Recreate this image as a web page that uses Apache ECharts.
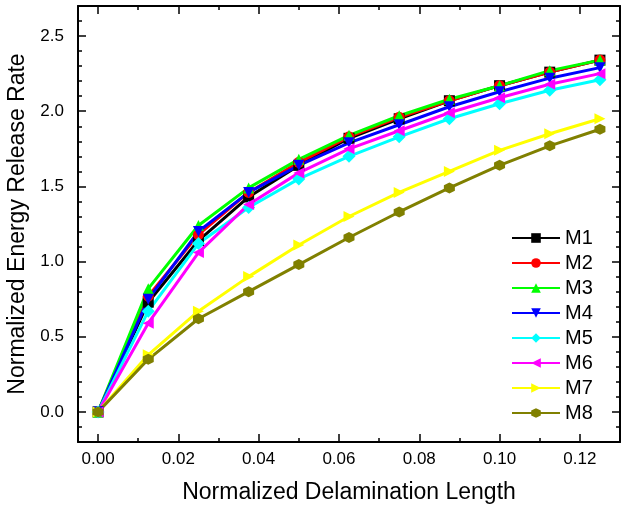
<!DOCTYPE html>
<html>
<head>
<meta charset="utf-8">
<script src="https://cdn.jsdelivr.net/npm/echarts@6/dist/echarts.min.js"></script>
<style>
  html, body { margin: 0; padding: 0; background: #fff; }
  #chart { width: 626px; height: 508px; }
</style>
</head>
<body>
<div id="chart"></div>
<script>
// data
const xValues = [0, 0.0125, 0.025, 0.0375, 0.05, 0.0625, 0.075, 0.0875, 0.1, 0.1125, 0.125];
const m1 = [0, 0.73, 1.14, 1.43, 1.64, 1.82, 1.95, 2.07, 2.17, 2.26, 2.34];
const m2 = [0, 0.77, 1.18, 1.46, 1.66, 1.83, 1.96, 2.07, 2.17, 2.26, 2.34];
const m3 = [0, 0.82, 1.24, 1.49, 1.68, 1.84, 1.97, 2.08, 2.17, 2.27, 2.34];
const m4 = [0, 0.75, 1.20, 1.46, 1.64, 1.79, 1.91, 2.03, 2.13, 2.22, 2.29];
const m5 = [0, 0.67, 1.12, 1.36, 1.55, 1.70, 1.83, 1.95, 2.05, 2.14, 2.21];
const m6 = [0, 0.59, 1.06, 1.38, 1.59, 1.75, 1.87, 1.99, 2.09, 2.18, 2.25];
const m7 = [0, 0.38, 0.67, 0.90, 1.11, 1.30, 1.46, 1.60, 1.74, 1.85, 1.95];
const m8 = [0, 0.35, 0.62, 0.80, 0.98, 1.16, 1.33, 1.49, 1.64, 1.77, 1.88];

const names = ['M1', 'M2', 'M3', 'M4', 'M5', 'M6', 'M7', 'M8'];
const xMajor = [0, 0.02, 0.04, 0.06, 0.08, 0.1, 0.12];
const xMinor = [0.01, 0.03, 0.05, 0.07, 0.09, 0.11];
const yMajor = [0, 0.5, 1.0, 1.5, 2.0, 2.5];
const yMinor = [-0.1, 0.1, 0.2, 0.3, 0.4, 0.6, 0.7, 0.8, 0.9, 1.1, 1.2, 1.3, 1.4,
                1.6, 1.7, 1.8, 1.9, 2.1, 2.2, 2.3, 2.4, 2.6];

const colors = ['#000000', '#FF0000', '#00FF00', '#0000FF', '#00FFFF', '#FF00FF', '#FFFF00', '#808000'];
const hexagon = 'path://M0,-1L0.866,-0.5L0.866,0.5L0,1L-0.866,0.5L-0.866,-0.5Z';
const symbols = ['rect', 'circle', 'triangle', 'triangle', 'diamond', 'triangle', 'triangle', hexagon];
const rotates = [0, 0, 0, 180, 0, 90, -90, 0];

const font = 'Liberation Sans, Arial, sans-serif';
let myChart = echarts.init(document.getElementById('chart'));

// grid 0: frame, major ticks, labels, series. grid 1 (same box): minor ticks only
// labels stay "shown" on every axis (empty, tiny text on the extra ones) or v6 drops the ticks
function xAx(grid, pos, vals, len, show) {
    return {
        type: 'value', gridIndex: grid, position: pos, min: -0.005, max: 0.13,
        axisLine: {show: grid === 0, onZero: false, lineStyle: {color: '#000', width: 2}},
        splitLine: {show: false},
        axisTick: {show: true, inside: true, length: len, customValues: vals,
            lineStyle: {color: '#000', width: 1.5}},
        axisLabel: {show: true, customValues: xMajor, margin: show ? 9 : 0,
            fontSize: show ? 17 : 1, color: '#000', fontFamily: font,
            formatter: v => show ? v.toFixed(2) : ''}
    };
}
function yAx(grid, pos, vals, len, show) {
    return {
        type: 'value', gridIndex: grid, position: pos, min: -0.2, max: 2.7,
        axisLine: {show: grid === 0, onZero: false, lineStyle: {color: '#000', width: 2}},
        splitLine: {show: false},
        axisTick: {show: true, inside: true, length: len, customValues: vals,
            lineStyle: {color: '#000', width: 1.5}},
        axisLabel: {show: true, customValues: yMajor, margin: show ? 14 : 0,
            fontSize: show ? 17 : 1, color: '#000', fontFamily: font,
            formatter: v => show ? v.toFixed(1) : ''}
    };
}

const xAxes = [xAx(0, 'bottom', xMajor, 8, true), xAx(0, 'top', xMajor, 8, false),
               xAx(1, 'bottom', xMinor, 4, false), xAx(1, 'top', xMinor, 4, false)];
xAxes[0].name = 'Normalized Delamination Length';
xAxes[0].nameLocation = 'middle';
xAxes[0].nameGap = 39;
xAxes[0].nameTextStyle = {fontSize: 23, color: '#000', fontFamily: font};

const yAxes = [yAx(0, 'left', yMajor, 8, true), yAx(0, 'right', yMajor, 8, false),
               yAx(1, 'left', yMinor, 4, false), yAx(1, 'right', yMinor, 4, false)];
yAxes[0].name = 'Normalized Energy Release Rate';
yAxes[0].nameLocation = 'middle';
yAxes[0].nameGap = 40;
yAxes[0].nameTextStyle = {fontSize: 23, color: '#000', fontFamily: font};

const allY = [m1, m2, m3, m4, m5, m6, m7, m8];
let series = allY.map((ys, i) => ({
    name: names[i],
    type: 'line',
    xAxisIndex: 0, yAxisIndex: 0,
    data: xValues.map((x, j) => [x, ys[j]]),
    symbol: symbols[i],
    symbolRotate: rotates[i],
    symbolSize: i === 4 ? 13 : 11,
    color: colors[i],
    lineStyle: {width: 3, color: colors[i]},
    itemStyle: {color: colors[i]}
}));

const box = {left: 78, right: 6, top: 6, bottom: 66, containLabel: false, outerBoundsMode: 'none'};
let option = {
    backgroundColor: '#fff',
    grid: [Object.assign({}, box), Object.assign({}, box)],
    legend: {
        orient: 'vertical', left: 511, top: 228, padding: 0,
        itemWidth: 48, itemHeight: 12, itemGap: 5,
        textStyle: {fontSize: 20, color: '#000', fontFamily: font},
        data: names
    },
    xAxis: xAxes,
    yAxis: yAxes,
    series: series
};
myChart.setOption(option);
</script>
</body>
</html>
